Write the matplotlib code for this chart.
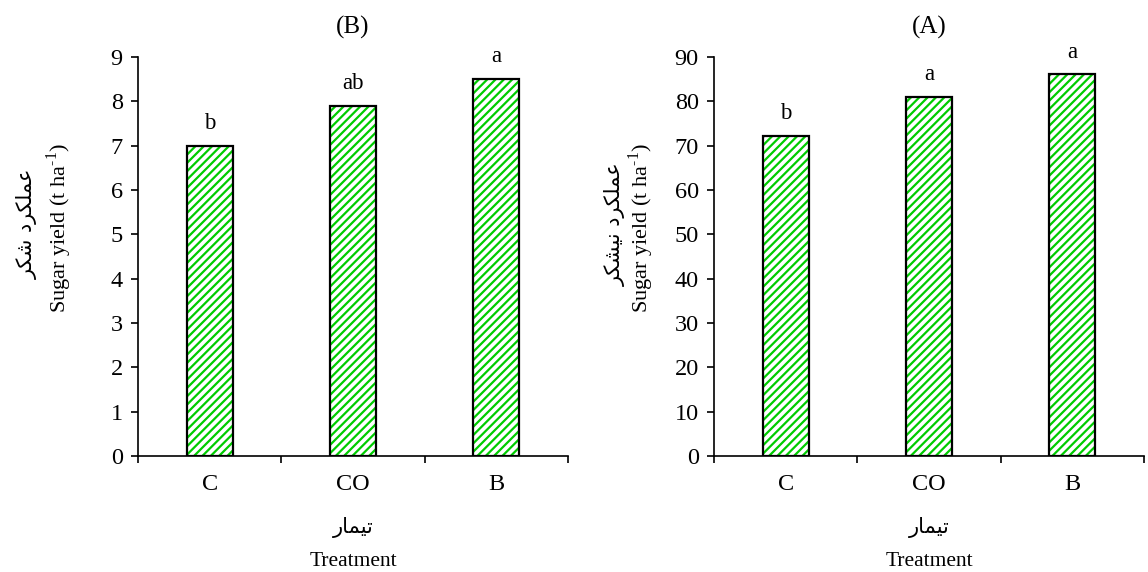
import matplotlib
matplotlib.use("Agg")
import matplotlib.pyplot as plt
import numpy as np

# ---------------- data ----------------
categories = ["C", "CO", "B"]
sugar_values = [7.0, 7.9, 8.5]          # panel (B)
sugar_letters = ["b", "ab", "a"]
cane_values = [72.2, 81.0, 86.1]        # panel (A)
cane_letters = ["b", "a", "a"]
yticks_B = [0, 1, 2, 3, 4, 5, 6, 7, 8, 9]
yticks_A = [0, 10, 20, 30, 40, 50, 60, 70, 80, 90]
title_B = "(B)"
title_A = "(A)"
ylabel_en = "Sugar yield (t ha$^{\\mathregular{\u20101}}$)"
ylabel_fa_B = "عملکرد شکر"
ylabel_fa_A = "عملکرد نیشکر"
xlabel_fa = "تیمار"
xlabel_en = "Treatment"

# ------------- simple Persian shaping (presentation forms) -------------
FORMS = {
    "ت": ("\uFE95", "\uFE96", "\uFE97", "\uFE98"),
    "ی": ("\uFEEF", "\uFEF0", "\uFEF3", "\uFEF4"),
    "م": ("\uFEE1", "\uFEE2", "\uFEE3", "\uFEE4"),
    "ا": ("\uFE8D", "\uFE8E", None, None),
    "ر": ("\uFEAD", "\uFEAE", None, None),
    "د": ("\uFEA9", "\uFEAA", None, None),
    "ع": ("\uFEC9", "\uFECA", "\uFECB", "\uFECC"),
    "ل": ("\uFEDD", "\uFEDE", "\uFEDF", "\uFEE0"),
    "ک": ("\uFED9", "\uFEDA", "\uFEDB", "\uFEDC"),
    "ش": ("\uFEB5", "\uFEB6", "\uFEB7", "\uFEB8"),
    "ن": ("\uFEE5", "\uFEE6", "\uFEE7", "\uFEE8"),
}


def shape(text):
    out = []
    n = len(text)
    for i, ch in enumerate(text):
        if ch not in FORMS:
            out.append(ch)
            continue
        prev = text[i - 1] if i > 0 else None
        nxt = text[i + 1] if i < n - 1 else None
        jp = prev in FORMS and FORMS[prev][2] is not None
        jn = nxt in FORMS and FORMS[ch][2] is not None
        iso, fin, ini, med = FORMS[ch]
        if jp and jn:
            out.append(med)
        elif jp:
            out.append(fin)
        elif jn:
            out.append(ini)
        else:
            out.append(iso)
    return "".join(out)[::-1]


# ---------------- style ----------------
plt.rcParams["font.family"] = ["Liberation Serif", "DejaVu Sans"]
plt.rcParams["mathtext.fontset"] = "custom"
plt.rcParams["mathtext.rm"] = "Liberation Serif"
plt.rcParams["hatch.linewidth"] = 1.6

GREEN = "#00CC00"
FA_FONT = ["DejaVu Sans"]

fig = plt.figure(figsize=(11.48, 5.72), dpi=100)

W = 1148.0
H = 572.0


def fx(px):
    return px / W


def fy(py):
    return 1 - py / H


panels = [
    dict(left=138, values=sugar_values, letters=sugar_letters, yticks=yticks_B,
         title=title_B, fa=ylabel_fa_B, fa_x=27, en_x=59),
    dict(left=714, values=cane_values, letters=cane_letters, yticks=yticks_A,
         title=title_A, fa=ylabel_fa_A, fa_x=615, en_x=641),
]

for p in panels:
    ax = fig.add_axes([fx(p["left"]), fy(456), 430 / W, 399 / H])
    x = np.arange(len(categories))
    ax.bar(x, p["values"], width=0.32, facecolor="white", edgecolor=GREEN,
           hatch="////", linewidth=0, zorder=2)
    ax.bar(x, p["values"], width=0.32, facecolor="none", edgecolor="black",
           linewidth=1.6, zorder=3)
    for xi, v, lab in zip(x, p["values"], p["letters"]):
        ax.annotate(lab, (xi, v), xytext=(0, 12), textcoords="offset points",
                    ha="center", va="baseline", fontsize=16.5)
    ax.set_xlim(-0.5, 2.5)
    ax.set_ylim(p["yticks"][0], p["yticks"][-1])
    ax.set_yticks(p["yticks"])
    ax.set_xticks(x)
    ax.set_xticklabels(categories)
    ax.set_xticks([-0.5, 0.5, 1.5, 2.5], minor=True)
    ax.tick_params(axis="x", which="major", length=0, pad=13, labelsize=17.5)
    ax.tick_params(axis="x", which="minor", length=5, width=1.2, direction="out")
    ax.tick_params(axis="y", length=5, width=1.2, direction="out", pad=6,
                   labelsize=17.5)
    for s in ["top", "right"]:
        ax.spines[s].set_visible(False)
    for s in ["left", "bottom"]:
        ax.spines[s].set_linewidth(1.2)
    ax.set_title(p["title"], fontsize=18, pad=17)

    cx = p["left"] + 215
    fig.text(fx(cx), fy(527), shape(xlabel_fa), family=FA_FONT, fontsize=15,
             ha="center", va="center")
    fig.text(fx(cx), fy(561), xlabel_en, fontsize=15.5, ha="center", va="center")
    fig.text(fx(p["fa_x"]), fy(224), shape(p["fa"]), family=FA_FONT,
             fontsize=15, rotation=90, ha="center", va="center")
    fig.text(fx(p["en_x"]), fy(228), ylabel_en, fontsize=16, rotation=90,
             ha="center", va="center")

fig.savefig("out.png", dpi=100)
